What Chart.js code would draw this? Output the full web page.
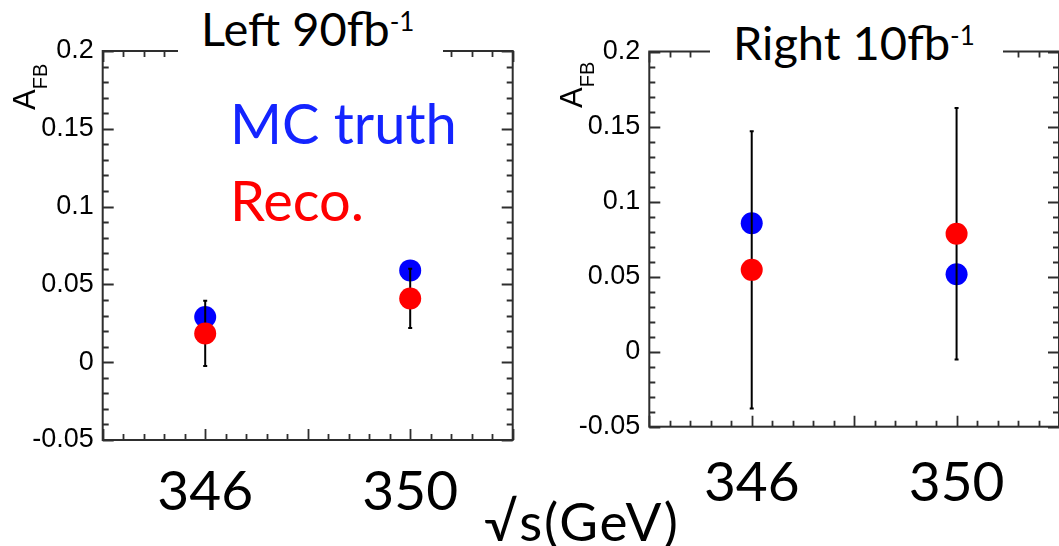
<!DOCTYPE html>
<html>
<head>
<meta charset="utf-8">
<script src="https://cdn.jsdelivr.net/npm/chart.js@4.4.1/dist/chart.umd.min.js"></script>
<style>
html, body { margin:0; padding:0; background:#fff; overflow:hidden; }
body { position:relative; width:1059px; height:546px; }
canvas { position:absolute; top:0; }
.ov { position:absolute; white-space:nowrap; }
.slide { font-family: Lato, "Open Sans", sans-serif; color:#000; }
.ttlbox { position:absolute; top:0; background:#fff; }
.sup { font-size:26px; vertical-align:15px; line-height:0; }
.afb { position:absolute; font-family:"Liberation Sans", Arial, sans-serif; font-size:31px; line-height:31px; color:#000; transform:rotate(-90deg); transform-origin:0 0; white-space:nowrap; }
.afb .sub { font-size:20px; vertical-align:-12px; line-height:0; }
</style>
</head>
<body>
<canvas id="cL" width="530" height="546" style="left:0px;width:530px;height:546px"></canvas>
<canvas id="cR" width="530" height="546" style="left:540px;width:530px;height:546px"></canvas>

<div class="ttlbox" style="left:178px;width:265px;height:64px">
  <div class="ov slide" style="left:23px;top:5px;font-size:47px;line-height:47px">Left 90fb<span class="sup">-1</span></div>
</div>
<div class="ttlbox" style="left:710px;width:293px;height:72px">
  <div class="ov slide" style="left:23px;top:19px;font-size:47px;line-height:47px">Right 10fb<span class="sup">-1</span></div>
</div>

<div class="ov slide" style="left:230px;top:95px;font-size:56px;line-height:56px;color:rgb(20,36,255)">MC truth</div>
<div class="ov slide" style="left:230px;top:172px;font-size:56px;line-height:56px;color:#ff0000">Reco.</div>
<div class="ov slide" style="left:484px;top:494px;font-size:53px;line-height:53px;letter-spacing:2px">√s(GeV)</div>

<div class="afb" style="left:9px;top:110px">A<span class="sub">FB</span></div>
<div class="afb" style="left:556px;top:108px">A<span class="sub">FB</span></div>

<script>
// ---- data ----
const energies = [346, 350];
const leftMC = [0.029, 0.059];
const leftReco = [0.0185, 0.041];
const leftRecoErr = [0.021, 0.019];
const rightMC = [0.0855, 0.0516];
const rightReco = [0.0545, 0.0786];
const rightRecoErr = [0.0924, 0.0838];
const yTickValues = [-0.05, 0, 0.05, 0.1, 0.15, 0.2];
const yTickLabels = ['-0.05', '0', '0.05', '0.1', '0.15', '0.2'];
const xTickValues = [346, 350];
const xTickLabels = ['346', '350'];

function makeChart(id, mc, reco, err, geo) {
  const frameAndErrors = {
    id: 'rootFrame',
    beforeDatasetsDraw(chart) {
      const ctx = chart.ctx;
      const a = chart.chartArea;
      const xs = chart.scales.x, ys = chart.scales.y;
      ctx.save();
      ctx.strokeStyle = '#2e2e2e';
      ctx.lineWidth = 2;
      ctx.strokeRect(a.left, a.top, a.right - a.left, a.bottom - a.top);
      ctx.beginPath();
      for (let k = 0; k <= 25; k++) {
        const v = ys.min + k * 0.01;
        const y = Math.round(ys.getPixelForValue(v)) + 0.5;
        const len = (k % 5 === 0) ? 11 : 6;
        ctx.moveTo(a.left, y); ctx.lineTo(a.left + len, y);
        ctx.moveTo(a.right, y); ctx.lineTo(a.right - len, y);
      }
      for (let k = 0; k <= 20; k++) {
        const v = xs.min + k * 0.4;
        const x = Math.round(xs.getPixelForValue(v)) + 0.5;
        const len = (k % 5 === 0) ? 11 : 6;
        ctx.moveTo(x, a.bottom); ctx.lineTo(x, a.bottom - len);
        ctx.moveTo(x, a.top); ctx.lineTo(x, a.top + len);
      }
      ctx.lineWidth = 1.8;
      ctx.stroke();
      ctx.restore();
    },
    afterDatasetDraw(chart, args) {
      if (args.index !== 0) return;
      const ctx = chart.ctx;
      const xs = chart.scales.x, ys = chart.scales.y;
      ctx.save();
      ctx.strokeStyle = '#000';
      ctx.lineWidth = 2;
      ctx.beginPath();
      for (let i = 0; i < energies.length; i++) {
        const x = xs.getPixelForValue(energies[i]);
        const y1 = ys.getPixelForValue(reco[i] + err[i]);
        const y2 = ys.getPixelForValue(reco[i] - err[i]);
        ctx.moveTo(x, y1); ctx.lineTo(x, y2);
        ctx.moveTo(x - 2, y1); ctx.lineTo(x + 2, y1);
        ctx.moveTo(x - 2, y2); ctx.lineTo(x + 2, y2);
      }
      ctx.stroke();
      ctx.restore();
    }
  };

  return new Chart(document.getElementById(id), {
    type: 'scatter',
    data: {
      datasets: [
        { label: 'MC truth', data: energies.map((e, i) => ({ x: e, y: mc[i] })),
          backgroundColor: '#0000ff', borderWidth: 0, pointRadius: 11, pointHoverRadius: 11, order: 2 },
        { label: 'Reco.', data: energies.map((e, i) => ({ x: e, y: reco[i] })),
          backgroundColor: '#ff0000', borderWidth: 0, pointRadius: 11, pointHoverRadius: 11, order: 1 }
      ]
    },
    options: {
      responsive: false,
      animation: false,
      devicePixelRatio: 1,
      events: [],
      layout: { padding: { top: geo.top, right: geo.right, left: 0, bottom: 0 } },
      plugins: { legend: { display: false }, tooltip: { enabled: false }, title: { display: false } },
      scales: {
        x: {
          type: 'linear', min: 344, max: 352,
          afterBuildTicks: s => { s.ticks = xTickValues.map(v => ({ value: v })); },
          afterFit: s => { s.height = geo.xHeight; },
          ticks: {
            callback: (v, i) => xTickLabels[i],
            font: { family: 'Lato', size: 55 }, color: '#000',
            padding: geo.xPad, maxRotation: 0, autoSkip: false
          },
          grid: { display: false, drawTicks: false },
          border: { display: false }
        },
        y: {
          type: 'linear', min: -0.05, max: 0.2,
          afterBuildTicks: s => { s.ticks = yTickValues.map(v => ({ value: v })); },
          afterFit: s => { s.width = geo.yWidth; },
          ticks: {
            callback: (v, i) => yTickLabels[i],
            font: { family: 'Liberation Sans', size: 27 }, color: '#000',
            padding: 9
          },
          grid: { display: false, drawTicks: false },
          border: { display: false }
        }
      }
    },
    plugins: [frameAndErrors]
  });
}

makeChart('cL', leftMC, leftReco, leftRecoErr, { top: 51, right: 17.3, yWidth: 102.7, xHeight: 106, xPad: 19 });
makeChart('cR', rightMC, rightReco, rightRecoErr, { top: 51.5, right: 8, yWidth: 109.3, xHeight: 119.3, xPad: 24 });
</script>
</body>
</html>
